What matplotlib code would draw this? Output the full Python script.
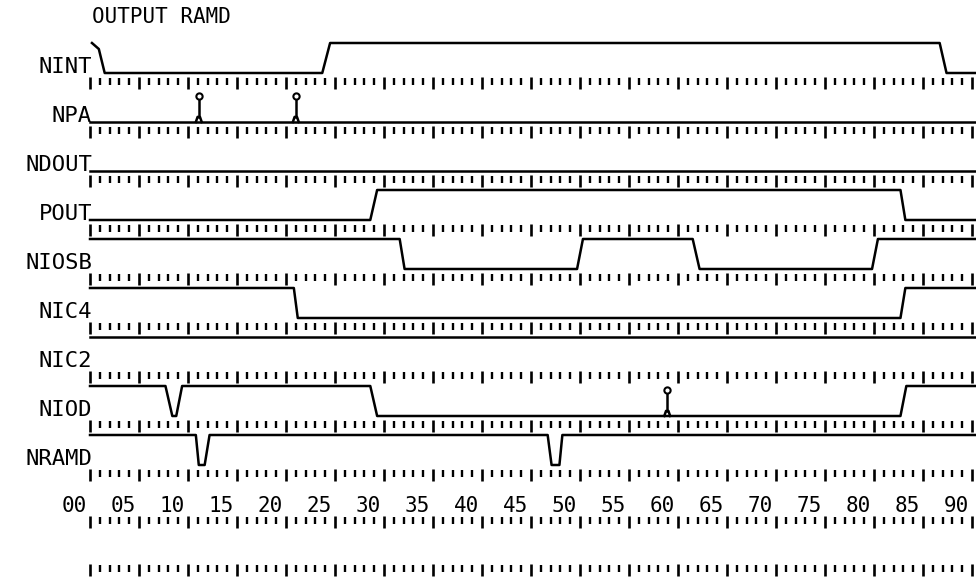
import matplotlib
matplotlib.use("Agg")
import matplotlib.pyplot as plt

# signal names, top to bottom
names = ["NINT", "NPA", "NDOUT", "POUT", "NIOSB", "NIC4", "NIC2", "NIOD", "NRAMD"]

# breakpoints (time units) and logic level
nint_t = [0.2, 0.9, 1.5, 23.7, 24.5, 86.7, 87.4, 90.3]
nint_v = [1, 0.8, 0, 0, 1, 1, 0, 0]
npa_t = [0, 90.3]
npa_v = [0, 0]
npa_spikes = [11.1, 21.0]
ndout_t = [0, 90.3]
ndout_v = [0, 0]
pout_t = [0, 28.6, 29.3, 82.7, 83.2, 90.3]
pout_v = [0, 0, 1, 1, 0, 0]
niosb_t = [0, 31.6, 32.1, 49.7, 50.3, 61.5, 62.2, 79.8, 80.4, 90.3]
niosb_v = [1, 1, 0, 0, 1, 1, 0, 0, 1, 1]
nic4_t = [0, 20.8, 21.2, 82.7, 83.2, 90.3]
nic4_v = [1, 1, 0, 0, 1, 1]
nic2_t = [0, 90.3]
nic2_v = [1, 1]
niod_t = [0, 7.7, 8.4, 8.8, 9.4, 28.6, 29.3, 82.7, 83.3, 90.3]
niod_v = [1, 1, 0, 0, 1, 1, 0, 0, 1, 1]
niod_spikes = [58.9]
nramd_t = [0, 10.8, 11.1, 11.7, 12.2, 46.7, 47.1, 47.9, 48.2, 90.3]
nramd_v = [1, 1, 0, 0, 1, 1, 0, 0, 1, 1]

traces = [(nint_t, nint_v, []), (npa_t, npa_v, npa_spikes), (ndout_t, ndout_v, []),
          (pout_t, pout_v, []), (niosb_t, niosb_v, []), (nic4_t, nic4_v, []),
          (nic2_t, nic2_v, []), (niod_t, niod_v, niod_spikes), (nramd_t, nramd_v, [])]

time_labels = ["00", "05", "10", "15", "20", "25", "30", "35", "40", "45",
               "50", "55", "60", "65", "70", "75", "80", "85", "90"]

# layout (pixel-like units, y grows downward)
ROW0 = 73
PITCH = 49
AMP = 30
PX = 9.8
X0 = 90
FONT = "DejaVu Sans Mono"
LW = 1.8

fig = plt.figure(figsize=(9.76, 5.84), dpi=100)
ax = fig.add_axes([0, 0, 1, 1])
ax.set_xlim(-X0 / PX, (976 - X0) / PX)
ax.set_ylim(584, 0)
ax.axis("off")


def tick_row(top):
    minor = [t for t in range(91) if t % 5]
    major = [t for t in range(91) if t % 5 == 0]
    ax.vlines(minor, top + 1, top + 8, color="k", lw=1.7)
    ax.vlines(major, top, top + 12, color="k", lw=1.9)


def spike(t, base):
    h = AMP * 0.17
    ax.plot([t - 0.3, t - 0.12, t + 0.12, t + 0.3], [base, base - h, base - h, base],
            color="k", lw=LW)
    ax.plot([t, t], [base - h, base - AMP * 0.78], color="k", lw=LW)
    ax.plot(t, base - AMP * 0.87, marker="o", ms=4.5, mfc="white", mec="k", mew=1.5)


ax.text(0.2, 23, "OUTPUT RAMD", family=FONT, fontsize=15, ha="left", va="baseline")

for i, (name, (ts, vs, spikes)) in enumerate(zip(names, traces)):
    base = ROW0 + PITCH * i
    ax.plot(ts, [base - AMP * v for v in vs], color="k", lw=LW, solid_joinstyle="round")
    for s in spikes:
        spike(s, base)
    ax.text(0.2, base, name, family=FONT, fontsize=16, ha="right", va="baseline")
    tick_row(base + 4)

num_y = ROW0 + PITCH * 8 + 51
for k, lab in enumerate(time_labels):
    ax.text(k * 5 - 1.6, num_y - 4, lab, family=FONT, fontsize=15, ha="center", va="baseline")
tick_row(num_y)
tick_row(num_y + 48)

fig.savefig("out.png", dpi=100)
